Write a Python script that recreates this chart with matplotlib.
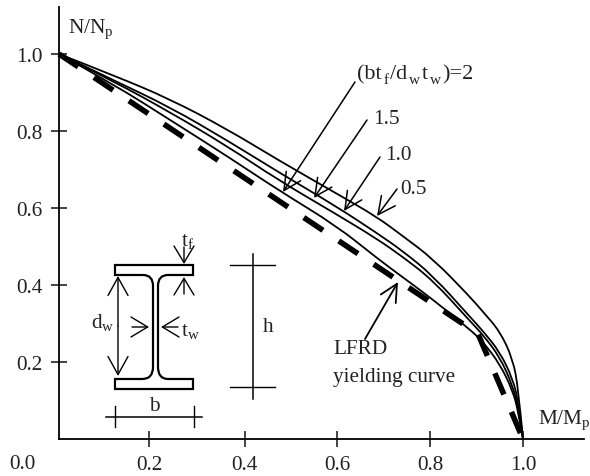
import matplotlib
matplotlib.use('Agg')
import matplotlib.pyplot as plt
from matplotlib.path import Path
from matplotlib.patches import PathPatch

plt.rcParams['font.family'] = ['Liberation Serif', 'DejaVu Serif']
plt.rcParams['mathtext.fontset'] = 'custom'
plt.rcParams['mathtext.rm'] = 'Liberation Serif'
plt.rcParams['mathtext.default'] = 'rm'

# Interaction curves
m_vals = [0.0, 0.121, 0.239, 0.362, 0.476, 0.599, 0.685, 0.741, 0.806, 0.886, 0.914, 0.95, 0.978, 0.99, 1.0]
n_ratio_05 = [1.0, 0.943, 0.883, 0.805, 0.722, 0.637, 0.577, 0.527, 0.468, 0.369, 0.33, 0.28, 0.208, 0.13, 0.0]
n_ratio_10 = [1.0, 0.93, 0.862, 0.776, 0.691, 0.603, 0.535, 0.488, 0.424, 0.317, 0.28, 0.226, 0.156, 0.096, 0.0]
n_ratio_15 = [1.0, 0.927, 0.849, 0.761, 0.67, 0.583, 0.52, 0.473, 0.412, 0.306, 0.27, 0.213, 0.138, 0.078, 0.0]
n_ratio_20 = [1.0, 0.919, 0.829, 0.735, 0.644, 0.553, 0.47, 0.42, 0.362, 0.284, 0.252, 0.195, 0.125, 0.07, 0.0]

# LFRD yielding curve
lfrd_m = [0.0, 0.903, 1.0]
lfrd_n = [1.0, 0.273, 0.0]

x_ticks = [0.194, 0.4, 0.6, 0.8, 1.0]
x_labels = ['0.2', '0.4', '0.6', '0.8', '1.0']
y_ticks = [0.2, 0.4, 0.6, 0.8, 1.0]
y_labels = ['0.2', '0.4', '0.6', '0.8', '1.0']

W, H = 590, 477
FS = 15.3
SUB = 11
fig = plt.figure(figsize=(W / 100, H / 100), dpi=100)

# main axes, placed on the pixels of the original
ax = fig.add_axes([59 / W, (H - 440) / H, (584 - 59) / W, (440 - 8) / H])
ax.set_xlim(0, 525 / 464)
ax.set_ylim(0, 432 / 385)
for s in ['top', 'right']:
    ax.spines[s].set_visible(False)
for s in ['left', 'bottom']:
    ax.spines[s].set_linewidth(1.3)
ax.set_xticks(x_ticks)
ax.set_xticklabels(x_labels, fontsize=FS)
ax.set_yticks(y_ticks)
ax.set_yticklabels(y_labels, fontsize=FS)
ax.tick_params(axis='both', direction='inout', length=11.5, width=1.1, color='#111111', labelcolor='#222222')
ax.tick_params(axis='x', pad=6)
ax.tick_params(axis='y', pad=6)
ax.patch.set_alpha(0)


# read points act as control points of a quadratic spline, so the corners round off
def smooth_curve(xs, ys):
    verts = [(xs[0], ys[0])]
    codes = [Path.MOVETO]
    for i in range(1, len(xs) - 1):
        end = (xs[i + 1], ys[i + 1]) if i == len(xs) - 2 else ((xs[i] + xs[i + 1]) / 2, (ys[i] + ys[i + 1]) / 2)
        verts += [(xs[i], ys[i]), end]
        codes += [Path.CURVE3, Path.CURVE3]
    return Path(verts, codes)


for n_vals in [n_ratio_05, n_ratio_10, n_ratio_15, n_ratio_20]:
    ax.add_patch(PathPatch(smooth_curve(m_vals, n_vals), facecolor='none', edgecolor='black', lw=1.3, clip_on=False))
ax.plot(lfrd_m, lfrd_n, color='black', lw=4.0, linestyle=(0, (4.15, 3.42)), clip_on=False)

# overlay in pixel coordinates for the labels and the section sketch
ov = fig.add_axes([0, 0, 1, 1])
ov.set_xlim(0, W)
ov.set_ylim(H, 0)
ov.axis('off')


def arrow(tail, tip, lw=1.1, hl=1.25, hw=0.62):
    ov.annotate('', xy=tip, xytext=tail,
                arrowprops=dict(arrowstyle=f'->,head_length={hl},head_width={hw}', color='black',
                                lw=lw, shrinkA=0, shrinkB=0, mutation_scale=10))


def label(x, y, s, ha='left', size=FS):
    ov.text(x, y, s, ha=ha, va='center', fontsize=size, color='#222222')


label(22, 465, '0.0', ha='center')
label(68, 29, r'N/N$_{p}$')
label(538, 420, r'M/M$_{p}$')
label(373, 120, '1.5')
label(385, 156, '1.0')
label(400, 190, '0.5')
label(333, 350, 'LFRD')
label(333, 378, 'yielding curve')

# ratio label, set piece by piece to keep the original spacing
for x, y, s, size in [(357, 79, '(bt', 16), (384, 84, 'f', SUB), (390, 79, '/d', 16), (409, 84, 'w', SUB),
                      (422, 79, 't', 16), (430, 84, 'w', SUB), (442, 79, ')=2', 16)]:
    ov.text(x, y, s, ha='left', va='baseline', fontsize=size, color='#222222')

arrow((355, 83), (283, 193))
arrow((367, 121), (314, 199))
arrow((380, 158), (344, 212))
arrow((397, 190), (377, 217))
arrow((365, 340), (398, 283), lw=1.3)

# I-section outline
verts = [(143, 276), (115, 276), (115, 266), (193, 266), (193, 276), (168, 276),
         (158, 276), (158, 287), (158, 368), (158, 380), (168, 380), (193, 380),
         (193, 390), (115, 390), (115, 380), (142, 380), (153, 380), (153, 368),
         (153, 287), (153, 276), (143, 276)]
codes = [Path.MOVETO, Path.LINETO, Path.LINETO, Path.LINETO, Path.LINETO, Path.LINETO,
         Path.CURVE3, Path.CURVE3, Path.LINETO, Path.CURVE3, Path.CURVE3, Path.LINETO,
         Path.LINETO, Path.LINETO, Path.LINETO, Path.LINETO, Path.CURVE3, Path.CURVE3,
         Path.LINETO, Path.CURVE3, Path.CURVE3]
ov.add_patch(PathPatch(Path(verts, codes), facecolor='none', edgecolor='black', lw=1.6))

# section dimensions
arrow((118, 327), (118, 277), lw=1.0, hl=1.3, hw=0.72)
arrow((118, 327), (118, 377), lw=1.0, hl=1.3, hw=0.72)
arrow((184, 248), (184, 265), lw=1.0, hl=1.2, hw=0.72)
arrow((184, 295), (184, 278), lw=1.0, hl=1.2, hw=0.72)
arrow((132, 328), (149, 328), lw=1.0, hl=1.2, hw=0.72)
arrow((178, 328), (161, 328), lw=1.0, hl=1.2, hw=0.72)
label(103, 323, r'd$_{w}$', ha='center')
label(181, 332, r't$_{w}$')
label(181, 242, r't$_{f}$')

ov.plot([106, 202], [418, 418], color='black', lw=1.1)
ov.plot([115, 115], [407, 428], color='black', lw=1.0)
ov.plot([194, 194], [407, 428], color='black', lw=1.0)
label(154, 407, 'b', ha='center')

ov.plot([253, 253], [255, 400], color='black', lw=1.1)
ov.plot([230, 275], [266, 266], color='black', lw=1.0)
ov.plot([230, 275], [388, 388], color='black', lw=1.0)
label(268, 328, 'h', ha='center')

fig.savefig('out.png', dpi=100)
